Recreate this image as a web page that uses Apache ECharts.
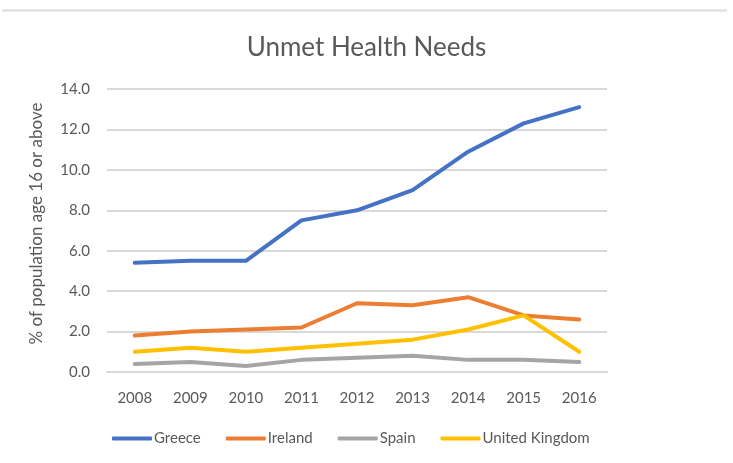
<!DOCTYPE html>
<html>
<head>
<meta charset="utf-8">
<script src="https://cdn.jsdelivr.net/npm/echarts@6/dist/echarts.min.js"></script>
<style>
  html, body { margin: 0; padding: 0; background: #fff; }
  #chart { width: 733px; height: 463px; }
</style>
</head>
<body>
<div id="chart"></div>
<script>
var years = ['2008', '2009', '2010', '2011', '2012', '2013', '2014', '2015', '2016'];
var greece = [5.4, 5.5, 5.5, 7.5, 8.0, 9.0, 10.9, 12.3, 13.1];
var ireland = [1.8, 2.0, 2.1, 2.2, 3.4, 3.3, 3.7, 2.8, 2.6];
var spain = [0.4, 0.5, 0.3, 0.6, 0.7, 0.8, 0.6, 0.6, 0.5];
var uk = [1.0, 1.2, 1.0, 1.2, 1.4, 1.6, 2.1, 2.8, 1.0];

var font = 'Lato, "Open Sans", sans-serif';
var txt = '#595959';

function line(name, data, color) {
  return {
    name: name,
    type: 'line',
    data: data,
    symbol: 'none',
    lineStyle: { width: 4, color: color, cap: 'round', join: 'round' },
    itemStyle: { color: color }
  };
}

var chart = echarts.init(document.getElementById('chart'));
chart.setOption({
  animation: false,
  // faint frame edge along the top of the picture
  graphic: [{
    type: 'line',
    shape: { x1: 2, y1: 10.5, x2: 727, y2: 10.5 },
    style: { stroke: '#dcdcdc', lineWidth: 2 }
  }],
  title: {
    text: 'Unmet Health Needs',
    left: 'center',
    top: 30,
    textStyle: { fontFamily: font, fontSize: 26, fontWeight: 'normal', color: txt }
  },
  legend: {
    bottom: 12,
    left: 107,
    icon: 'roundRect',
    itemWidth: 40,
    itemHeight: 4,
    itemGap: 25,
    textStyle: { fontFamily: font, fontSize: 15, color: txt, padding: [0, 0, 0, -3] },
    data: ['Greece', 'Ireland', 'Spain', 'United Kingdom']
  },
  grid: { left: 107, right: 126, top: 89, bottom: 91 },
  xAxis: {
    type: 'category',
    data: years,
    boundaryGap: true,
    axisLine: { lineStyle: { color: '#d9d9d9', width: 2 } },
    axisTick: { show: false },
    axisLabel: { fontFamily: font, fontSize: 15, color: txt, margin: 19 }
  },
  yAxis: {
    type: 'value',
    min: 0,
    max: 14,
    interval: 2,
    name: '% of population age 16 or above',
    nameLocation: 'middle',
    nameGap: 62,
    nameTextStyle: { fontFamily: font, fontSize: 17, color: txt, padding: [0, 0, 0, 14] },
    axisLine: { show: false },
    axisTick: { show: false },
    splitLine: { lineStyle: { color: '#d9d9d9', width: 2 } },
    axisLabel: {
      fontFamily: font, fontSize: 15, color: txt, margin: 17,
      formatter: function (v) { return v.toFixed(1); }
    }
  },
  series: [
    line('Greece', greece, '#4472C4'),
    line('Ireland', ireland, '#ED7D31'),
    line('Spain', spain, '#A5A5A5'),
    line('United Kingdom', uk, '#FFC000')
  ]
});
</script>
</body>
</html>
